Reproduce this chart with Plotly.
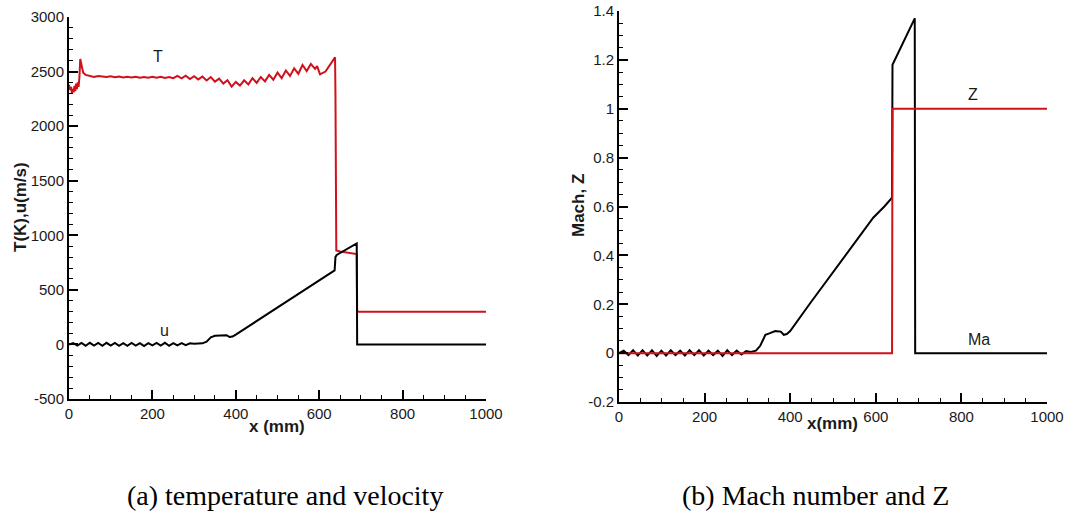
import plotly.graph_objects as go

# ---- data ----
T_x = [0,3,5,7,9,11,13,15,17,19,21,23,25,27,30,34,40,50,60,70,80,90,100,110,120,130,140,150,160,170,
       180,190,200,210,220,230,240,250,260,270,280,290,300,310,320,330,340,350,360,370,380,390,400,410,
       420,430,440,450,460,470,480,490,500,510,520,530,540,550,560,570,580,590,595,602,615,630,638,639,
       641,650,670,690,691,1000]
T_y = [2380,2330,2360,2300,2340,2310,2370,2320,2390,2340,2400,2360,2450,2615,2560,2490,2470,2462,2450,2460,
       2455,2450,2456,2448,2454,2446,2452,2446,2453,2444,2450,2444,2452,2443,2452,2442,2450,2440,2460,2438,
       2462,2432,2458,2428,2455,2418,2450,2408,2435,2390,2420,2362,2405,2372,2420,2382,2440,2396,2450,2410,
       2470,2425,2490,2440,2510,2460,2530,2480,2560,2505,2570,2525,2550,2475,2500,2580,2630,2290,860,852,
       840,828,300,300]

u_x = [0,10,20,30,40,50,60,70,80,90,100,110,120,130,140,150,160,170,180,190,200,210,220,230,240,250,
       260,270,280,290,300,310,320,330,340,350,365,378,385,392,400,420,445,450,500,550,600,637,639,642,
       690,691,1000]
u_y = [0,12,-10,14,-12,15,-10,14,-12,15,-10,14,-12,12,-12,14,-10,12,-14,12,-8,14,-10,15,-12,12,
       -8,12,-6,10,6,10,10,25,65,80,85,85,68,72,90,140,200,212,335,460,585,678,800,820,
       925,0,0]

Ma_x = [0,11,22,33,44,55,66,77,88,99,110,121,132,143,154,165,176,187,198,209,220,231,242,253,264,275,
        286,297,308,320,330,342,350,365,378,385,392,400,447,517,594,620,638,639,691,692,1000]
Ma_y = [0,0.01,-0.008,0.012,-0.01,0.012,-0.01,0.012,-0.012,0.01,-0.01,0.012,-0.008,0.01,-0.01,0.012,
        -0.008,0.012,-0.01,0.01,-0.008,0.01,-0.012,0.012,-0.008,0.01,-0.006,0.008,0.005,0.01,0.03,0.075,
        0.08,0.09,0.088,0.075,0.078,0.09,0.205,0.37,0.554,0.6,0.636,1.18,1.37,0,0]

Z_x = [0, 638, 639, 1000]
Z_y = [0, 0, 1, 1]

x_ticks = [0, 200, 400, 600, 800, 1000]
y1_ticks = [-500, 0, 500, 1000, 1500, 2000, 2500, 3000]
y1_labels = ["-500", "0", "500", "1000", "1500", "2000", "2500", "3000"]
y2_ticks = [-0.2, 0, 0.2, 0.4, 0.6, 0.8, 1.0, 1.2, 1.4]
y2_labels = ["-0.2", "0", "0.2", "0.4", "0.6", "0.8", "1", "1.2", "1.4"]

assert len(T_x) == len(T_y) and len(u_x) == len(u_y) and len(Ma_x) == len(Ma_y)

RED = "#d0101a"
W, H = 1070, 515
SANS = "Liberation Sans, Arial, sans-serif"
SERIF = "Liberation Serif, Times New Roman, serif"

fig = go.Figure()
fig.add_trace(go.Scatter(x=T_x, y=T_y, mode="lines", line=dict(color=RED, width=2),
                         xaxis="x", yaxis="y", showlegend=False))
fig.add_trace(go.Scatter(x=u_x, y=u_y, mode="lines", line=dict(color="black", width=2),
                         xaxis="x", yaxis="y", showlegend=False))
fig.add_trace(go.Scatter(x=Ma_x, y=Ma_y, mode="lines", line=dict(color="black", width=2),
                         xaxis="x2", yaxis="y2", showlegend=False))
fig.add_trace(go.Scatter(x=Z_x, y=Z_y, mode="lines", line=dict(color=RED, width=2),
                         xaxis="x2", yaxis="y2", showlegend=False))

def xax(domain, anchor):
    return dict(domain=domain, anchor=anchor, range=[0, 1000], tickvals=x_ticks,
                ticktext=[str(v) for v in x_ticks], ticks="inside", ticklen=9, tickwidth=2,
                tickcolor="black", showline=True, linewidth=2, linecolor="black",
                showgrid=False, zeroline=False, automargin=False,
                tickfont=dict(family=SANS, size=15, color="#1a1a1a"),
                minor=dict(ticks="inside", ticklen=4, tickwidth=1, tickcolor="black", dtick=50,
                           showgrid=False))

def yax(domain, anchor, rng, vals, labels, mdt):
    return dict(domain=domain, anchor=anchor, range=rng, tickvals=vals, ticktext=labels,
                ticks="inside", ticklen=9, tickwidth=2, tickcolor="black", showline=True,
                linewidth=2, linecolor="black", showgrid=False, zeroline=False, automargin=False,
                tickfont=dict(family=SANS, size=15, color="#1a1a1a"),
                minor=dict(ticks="inside", ticklen=4, tickwidth=1, tickcolor="black",
                           tick0=rng[0], dtick=mdt, showgrid=False))

L = (69, 486, 17, 399)
R = (619, 1047, 11, 402)

fig.update_layout(
    width=W, height=H, margin=dict(l=0, r=0, t=0, b=0, autoexpand=False),
    paper_bgcolor="white", plot_bgcolor="white",
    xaxis=xax([L[0] / W, L[1] / W], "y"),
    yaxis=yax([1 - L[3] / H, 1 - L[2] / H], "x", [-500, 3000], y1_ticks, y1_labels, 100),
    xaxis2=xax([R[0] / W, R[1] / W], "y2"),
    yaxis2=yax([1 - R[3] / H, 1 - R[2] / H], "x2", [-0.2, 1.4], y2_ticks, y2_labels, 0.05),
)

def A(**kw):
    d = dict(showarrow=False, xanchor="center", yanchor="middle")
    d.update(kw)
    return d

ann = []
lf = dict(family=SANS, size=16, color="#1a1a1a")
# in-plot labels
ann.append(A(x=213, y=2634, xref="x", yref="y", text="T", font=lf))
ann.append(A(x=228, y=125, xref="x", yref="y", text="u", font=lf))
ann.append(A(x=826, y=1.058, xref="x2", yref="y2", text="Z", font=lf))
ann.append(A(x=840, y=0.055, xref="x2", yref="y2", text="Ma", font=lf))
# axis titles
tf = dict(family=SANS, size=17, color="#1a1a1a")
ann.append(A(x=277 / W, y=1 - 426 / H, xref="paper", yref="paper", text="<b>x (mm)</b>", font=tf))
ann.append(A(x=832 / W, y=1 - 423 / H, xref="paper", yref="paper", text="<b>x(mm)</b>", font=tf))
ann.append(A(x=20 / W, y=1 - 207 / H, xref="paper", yref="paper", text="<b>T(K),u(m/s)</b>",
             textangle=-90, font=tf))
ann.append(A(x=578 / W, y=1 - 206 / H, xref="paper", yref="paper", text="<b>Mach, Z</b>",
             textangle=-90, font=tf))
# captions
cf = dict(family=SERIF, size=28, color="black")
ann.append(A(x=285 / W, y=1 - 495 / H, xref="paper", yref="paper",
             text="(a) temperature and velocity", font=cf))
ann.append(A(x=815 / W, y=1 - 495 / H, xref="paper", yref="paper",
             text="(b) Mach number and Z", font=cf))
fig.update_layout(annotations=ann)

fig.write_html("out.html", config={"displayModeBar": False},
               post_script="document.body.style.margin='0';document.body.style.overflow='hidden';")
